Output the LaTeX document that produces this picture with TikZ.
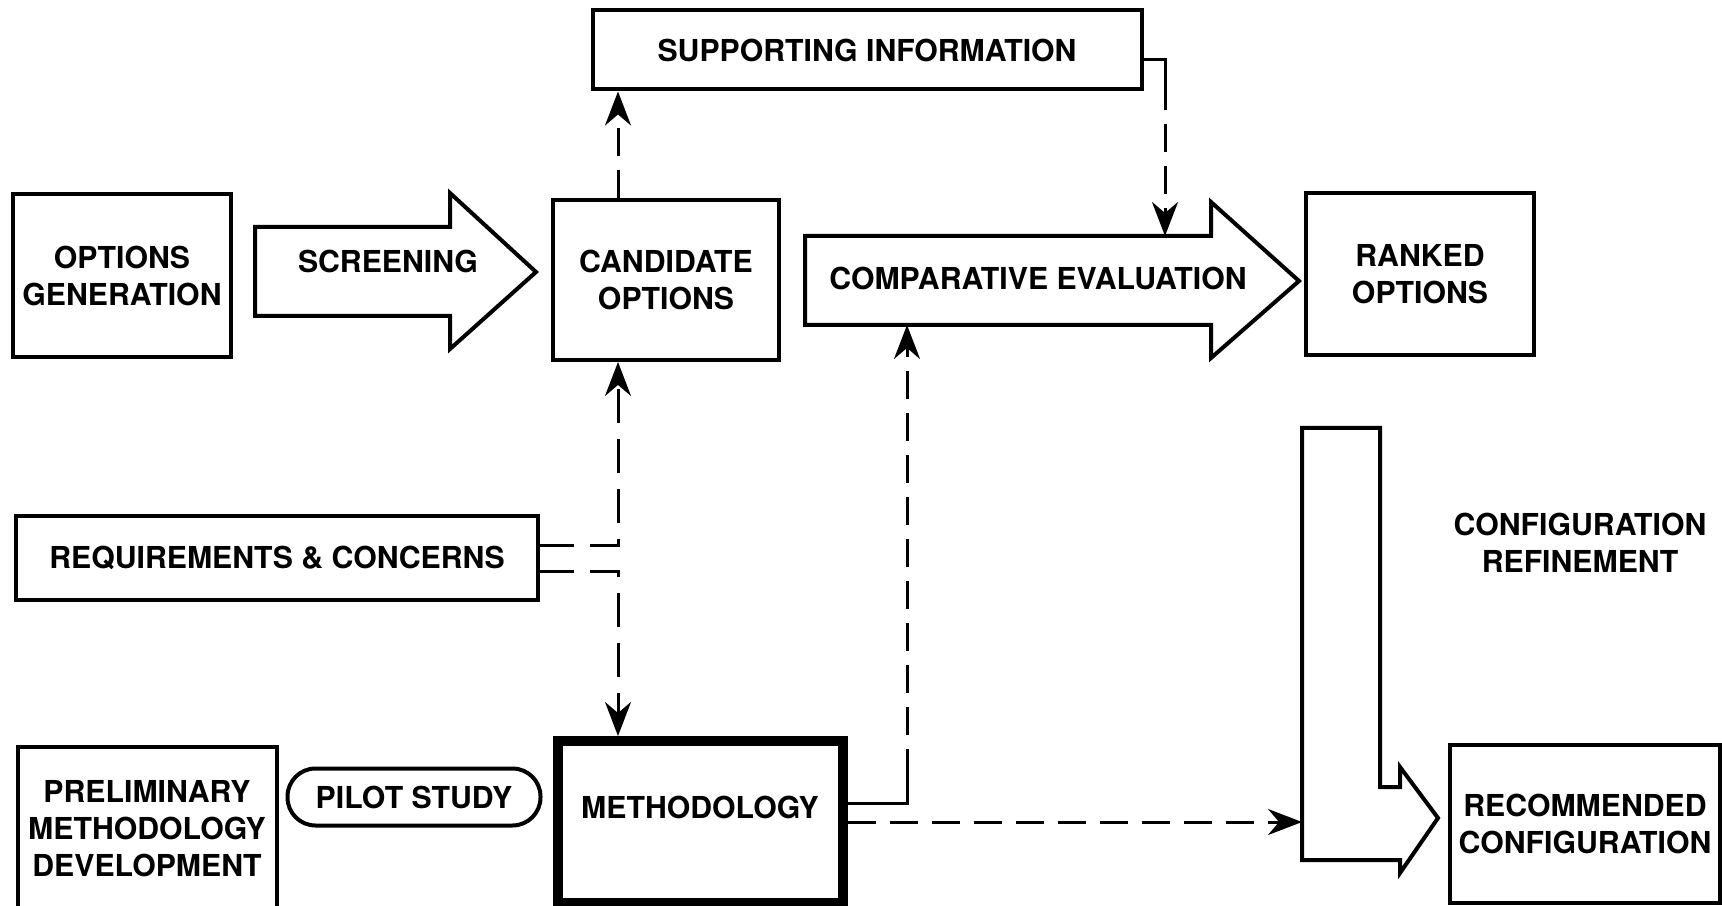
\documentclass[tikz,border=0pt]{standalone}
\usepackage{fontspec}
\setmainfont{TeX Gyre Heros}
\usetikzlibrary{arrows.meta}

\tikzset{
  box/.style={draw, line width=0.4mm, align=center, inner sep=0pt},
  blockarrow/.style={draw, line width=0.4mm, line join=miter},
  dashline/.style={line width=0.3mm, dash pattern=on 2.8mm off 1.4mm},
  reqline/.style={line width=0.3mm, dash pattern=on 3.4mm off 1.6mm},
  tip/.style={-{Stealth[length=3.4mm,width=2.6mm]}},
  twotips/.style={{Stealth[length=3.4mm,width=2.6mm]}-{Stealth[length=3.4mm,width=2.6mm]}},
}

\begin{document}
\begin{tikzpicture}[x=0.1mm, y=-0.1mm, font=\fontsize{8.6}{10.5}\selectfont\bfseries]
\useasboundingbox (0,0) rectangle (1722,906);

% boxes
\node[box, minimum width=21.8mm, minimum height=16.3mm] (gen) at (122,276) {OPTIONS\\GENERATION};
\node[box, minimum width=22.6mm, minimum height=16mm] (cand) at (666,280) {CANDIDATE\\OPTIONS};
\node[box, minimum width=54.9mm, minimum height=7.9mm] (sup) at (867,50) {SUPPORTING INFORMATION};
\node[box, minimum width=22.8mm, minimum height=16.2mm] (rank) at (1420,274) {RANKED\\OPTIONS};
\node[box, minimum width=52.2mm, minimum height=8.4mm] (req) at (277,558) {REQUIREMENTS \& CONCERNS};
\node[box, minimum width=25.9mm, minimum height=16.4mm] (prelim) at (147,829) {PRELIMINARY\\METHODOLOGY\\DEVELOPMENT};
\node[box, rounded corners=2.8mm, minimum width=25.3mm, minimum height=5.7mm] (pilot) at (414,797) {PILOT STUDY};
\node[box, line width=1mm, minimum width=28.5mm, minimum height=16.2mm,
  label={[yshift=1.5mm]center:METHODOLOGY}] (meth) at (700,822) {};
\node[box, minimum width=27mm, minimum height=15.8mm] (rec) at (1585,824) {RECOMMENDED\\CONFIGURATION};

% block arrows
\draw[blockarrow] (255,227) -- (450,227) -- (450,193) -- (536,272) -- (450,349) -- (450,316) -- (255,316) -- cycle;
\node (screen) at (388,261) {SCREENING};
\draw[blockarrow] (805,236) -- (1211,236) -- (1211,202) -- (1299,281) -- (1211,358) -- (1211,325) -- (805,325) -- cycle;
\node (eval) at (1038,278) {COMPARATIVE EVALUATION};
\draw[blockarrow] (1302,428) -- (1380,428) -- (1380,787) -- (1400,787) -- (1400,767) -- (1438,818)
  -- (1400,873) -- (1400,860) -- (1302,860) -- cycle;
\node[align=center] (refine) at (1580,543) {CONFIGURATION\\REFINEMENT};

\coordinate (cx) at (618,0);
\coordinate (evtop) at (1165,236);
\coordinate (evbot) at (907,325);
\coordinate (lleft) at (1302,822);

% connectors
\draw[dashline, tip] (cand.north -| cx) -- (sup.south -| cx);
\draw[line width=0.3mm] ([yshift=-1mm]sup.east) -| ([yshift=-3.2mm]sup.east -| evtop);
\draw[dashline, tip] ([yshift=-3.2mm]sup.east -| evtop) -- (evtop);
\draw[reqline, tip] ([yshift=1.3mm]req.east) -| (cand.south -| cx);
\draw[reqline, tip] ([yshift=-1.3mm]req.east) -| (meth.north -| cx);
\draw[line width=0.3mm] ([yshift=1.9mm]meth.east) -| ([yshift=4.5mm]meth.east -| evbot);
\draw[dashline, tip] ([yshift=4.5mm]meth.east -| evbot) -- (evbot);
\draw[dashline, tip] (meth.east) -- (lleft);
\end{tikzpicture}
\end{document}
